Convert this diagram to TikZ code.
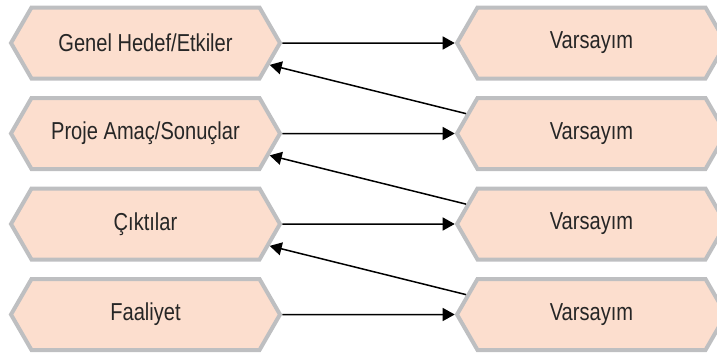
\documentclass[tikz,border=0pt]{standalone}
\usepackage{fontspec}
\setmainfont[FakeStretch=0.82]{Liberation Sans}
\usetikzlibrary{arrows.meta,positioning,shapes.symbols}
\definecolor{LfmPeach}{RGB}{252,222,206}
\definecolor{LfmGray}{RGB}{190,191,193}
\definecolor{LfmText}{RGB}{38,38,38}
\tikzset{
  lfm/hex/.style={
    signal,
    signal to=west and east,
    signal pointer angle=120,
    draw=LfmGray,
    line width=4pt,
    fill=LfmPeach,
    text=LfmText,
    minimum width=269pt,
    minimum height=71pt,
    inner sep=0pt,
    font=\fontsize{24.5}{29}\selectfont
  },
  lfm/arrow/.style={-{Triangle[length=12pt,width=13pt]}, line width=1.5pt, draw=black}
}
\begin{document}
\begin{tikzpicture}[x=1pt,y=-1pt]
  \useasboundingbox (0,0) rectangle (717,356);
  \node[lfm/hex] (goal) at (145.5,43) {Genel Hedef/Etkiler};
  \node[lfm/hex] (purpose) at (145.5,133.5) {Proje Amaç/Sonuçlar};
  \node[lfm/hex] (outputs) at (145.5,224) {Çıktılar};
  \node[lfm/hex] (activity) at (145.5,314.5) {Faaliyet};
  \node[lfm/hex] (asm1) at (591.5,43) {Varsayım};
  \node[lfm/hex] (asm2) at (591.5,133.5) {Varsayım};
  \node[lfm/hex] (asm3) at (591.5,224) {Varsayım};
  \node[lfm/hex] (asm4) at (591.5,314.5) {Varsayım};
  \draw[lfm/arrow] (goal) -- (asm1);
  \draw[lfm/arrow] (purpose) -- (asm2);
  \draw[lfm/arrow] (outputs) -- (asm3);
  \draw[lfm/arrow] (activity) -- (asm4);
  \draw[lfm/arrow] (asm2.171) -- (goal.-10.5);
  \draw[lfm/arrow] (asm3.171) -- (purpose.-10.5);
  \draw[lfm/arrow] (asm4.171) -- (outputs.-10.5);
\end{tikzpicture}
\end{document}
